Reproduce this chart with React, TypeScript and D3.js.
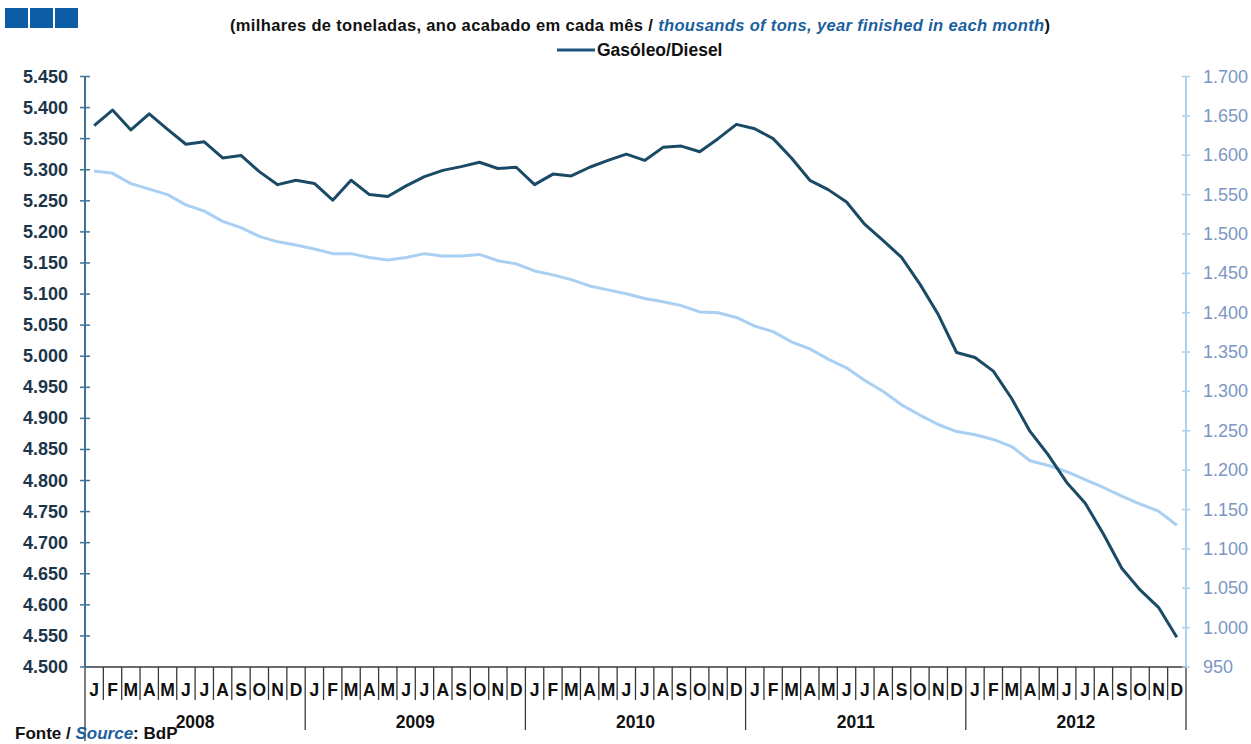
import React from "react";
import * as d3 from "d3";

const monthLabels = ["J", "F", "M", "A", "M", "J", "J", "A", "S", "O", "N", "D"];
const years = ["2008", "2009", "2010", "2011", "2012"];

// Gasóleo/Diesel (left axis, thousands of tons)
const diesel = [
  5371, 5396, 5364, 5390, 5365, 5341, 5345, 5319, 5323, 5297, 5276, 5283,
  5278, 5251, 5283, 5260, 5257, 5274, 5289, 5299, 5305, 5312, 5302, 5304,
  5276, 5293, 5290, 5304, 5315, 5325, 5315, 5336, 5338, 5329, 5350, 5373,
  5366, 5350, 5319, 5283, 5268, 5248, 5212, 5186, 5159, 5116, 5067, 5006,
  4998, 4976, 4932, 4879, 4841, 4797, 4764, 4714, 4659, 4624, 4596, 4548,
];

// Second series (right axis)
const second = [
  1580, 1577, 1564, 1557, 1550, 1537, 1529, 1516, 1508, 1497, 1490, 1486,
  1481, 1475, 1475, 1470, 1467, 1470, 1475, 1472, 1472, 1474, 1466, 1462,
  1453, 1448, 1442, 1434, 1429, 1424, 1418, 1414, 1409, 1401, 1400, 1394,
  1383, 1376, 1363, 1354, 1341, 1330, 1314, 1300, 1283, 1270, 1258, 1249,
  1245, 1239, 1230, 1212, 1206, 1198, 1188, 1178, 1167, 1157, 1148, 1130,
];

const leftTicks = d3.range(4500, 5451, 50);
const rightTicks = d3.range(950, 1701, 50);

const W = 1251;
const H = 744;
const FONT = "'Liberation Sans', Arial, sans-serif";

const locale = d3.formatLocale({ decimal: ",", thousands: ".", grouping: [3], currency: ["", "€"] });
const fmt = locale.format(",");

export default function App() {
  const left = 85;
  const right = 1186;
  const top = 76.5;
  const bottom = 667;

  const n = diesel.length;
  const x = d3.scaleBand<number>().domain(d3.range(n)).range([left, right]).padding(0);
  const bw = x.bandwidth();
  const cx = (i: number) => (x(i) as number) + bw / 2;
  const yL = d3.scaleLinear().domain([4500, 5450]).range([bottom, top]);
  const yR = d3.scaleLinear().domain([950, 1700]).range([bottom, top]);

  const lineL = d3.line<number>().x((_, i) => cx(i)).y((d) => yL(d));
  const lineR = d3.line<number>().x((_, i) => cx(i)).y((d) => yR(d));

  const darkCol = "#1b4a66";
  const lightCol = "#a9d0f3";
  const leftAxisCol = "#3e7396";
  const rightAxisCol = "#a9d1f0";
  const gridDark = "#3a3a3a";

  const boundaries = d3.range(0, n + 1);

  return (
    <svg width={W} height={H} style={{ position: "absolute", left: 0, top: 0, background: "#fff" }} fontFamily={FONT}>
      {/* logo squares */}
      {[0, 1, 2].map((k) => (
        <rect key={k} x={5 + k * 25} y={8} width={23} height={20} fill="#0d5ca6" />
      ))}

      {/* subtitle */}
      <text x={640} y={31} textAnchor="middle" fontSize={16.5} fontWeight="bold" fill="#111" textLength={820}>
        (milhares de toneladas, ano acabado em cada mês /{" "}
        <tspan fill="#1a5f9e" fontStyle="italic">thousands of tons, year finished in each month</tspan>)
      </text>

      {/* legend */}
      <line x1={557} x2={595} y1={50} y2={50} stroke="#1c5680" strokeWidth={3} />
      <text x={597} y={56} fontSize={17.5} fontWeight="bold" fill="#111">Gasóleo/Diesel</text>

      {/* month separators */}
      {boundaries.map((k) => {
        const bx = left + k * bw;
        const isYear = k % 12 === 0;
        const y2 = k === 0 ? 741 : isYear ? 730 : 700;
        return <line key={k} x1={bx} x2={bx} y1={bottom} y2={y2} stroke={gridDark} strokeWidth={1.3} />;
      })}
      {/* x-axis line */}
      <line x1={left} x2={right} y1={bottom} y2={bottom} stroke={gridDark} strokeWidth={1.5} />

      {/* month labels */}
      {d3.range(n).map((i) => (
        <text key={i} x={cx(i)} y={696} textAnchor="middle" fontSize={17.5} fontWeight="bold" fill="#111">
          {monthLabels[i % 12]}
        </text>
      ))}
      {/* year labels */}
      {years.map((yr, k) => (
        <text key={yr} x={left + (k * 12 + 6) * bw} y={728} textAnchor="middle" fontSize={17.5} fontWeight="bold" fill="#111">
          {yr}
        </text>
      ))}

      {/* left axis */}
      <line x1={left} x2={left} y1={top} y2={bottom} stroke={leftAxisCol} strokeWidth={2} />
      {leftTicks.map((t) => (
        <g key={t}>
          <line x1={left - 5} x2={left + 5} y1={yL(t)} y2={yL(t)} stroke={leftAxisCol} strokeWidth={1.5} />
          <text x={68} y={yL(t) + 6} textAnchor="end" fontSize={18} fontWeight="bold" fill="#1d3549">
            {fmt(t)}
          </text>
        </g>
      ))}

      {/* right axis */}
      <line x1={right} x2={right} y1={top} y2={bottom} stroke={rightAxisCol} strokeWidth={2} />
      {rightTicks.map((t) => (
        <g key={t}>
          <line x1={right - 4} x2={right + 4} y1={yR(t)} y2={yR(t)} stroke={rightAxisCol} strokeWidth={1.5} />
          <text x={1203} y={yR(t) + 6} textAnchor="start" fontSize={18} fill="#7b97c2">
            {fmt(t)}
          </text>
        </g>
      ))}

      {/* lines */}
      <path d={lineR(second) || ""} fill="none" stroke={lightCol} strokeWidth={3} strokeLinejoin="round" />
      <path d={lineL(diesel) || ""} fill="none" stroke={darkCol} strokeWidth={3} strokeLinejoin="round" />

      {/* source */}
      <text x={15} y={739} fontSize={17} fontWeight="bold" fill="#111">
        Fonte / <tspan fill="#1a5f9e" fontStyle="italic">Source</tspan>: BdP
      </text>
    </svg>
  );
}
